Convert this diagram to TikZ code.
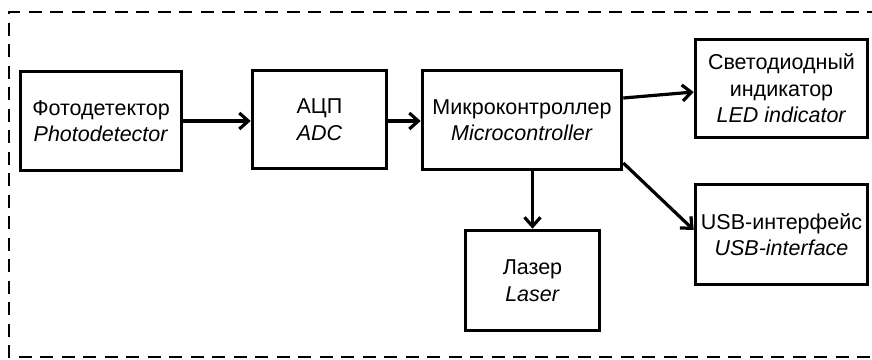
\documentclass[tikz,border=0pt]{standalone}
\usepackage{fontspec}
\setmainfont{Liberation Sans}
\usetikzlibrary{arrows.meta}
\begin{document}
\begin{tikzpicture}[x=1pt,y=-1pt,
  blk/.style={draw, line width=3.6pt, align=center, inner sep=0pt,
    font=\fontsize{21.5}{26.5}\selectfont},
  conn/.style={line width=3.2pt, -{Straight Barb[length=9pt,width=16pt,line width=3.2pt]}},
  frame/.style={line width=2.4pt, dash pattern=on 13pt off 8.5pt}]
\useasboundingbox (0,0) rectangle (872,359);
\draw[frame] (880,12) -- (9,12) -- (9,357) -- (880,357);
\node[blk, minimum width=161pt, minimum height=99pt] (photo) at (101,121) {Фотодетектор\\ \textit{Photodetector}};
\node[blk, minimum width=134pt, minimum height=98pt] (adc) at (319.5,119.5) {АЦП\\ \textit{ADC}};
\node[blk, minimum width=199pt, minimum height=99pt] (micro) at (522,120) {Микроконтроллер\\ \textit{Microcontroller}};
\node[blk, minimum width=134pt, minimum height=100pt] (laser) at (532.5,280.5) {Лазер\\ \textit{Laser}};
\node[blk, minimum width=172pt, minimum height=98pt] (led) at (781.5,88.5) {Светодиодный\\индикатор\\ \textit{LED indicator}};
\node[blk, minimum width=172pt, minimum height=100pt] (usb) at (781.5,234.5) {USB-интерфейс\\ \textit{USB-interface}};
\draw[conn] (photo.east |- 0,121) -- (adc.west |- 0,121);
\draw[conn] (adc.east |- 0,121) -- (micro.west |- 0,121);
\draw[conn] ([yshift=22pt]micro.east) -- ([yshift=-3.5pt]led.west);
\draw[conn] ([yshift=-43pt]micro.east) -- ([yshift=4.5pt]usb.west);
\draw[conn] (laser.north |- micro.south) -- (laser.north);
\end{tikzpicture}
\end{document}
